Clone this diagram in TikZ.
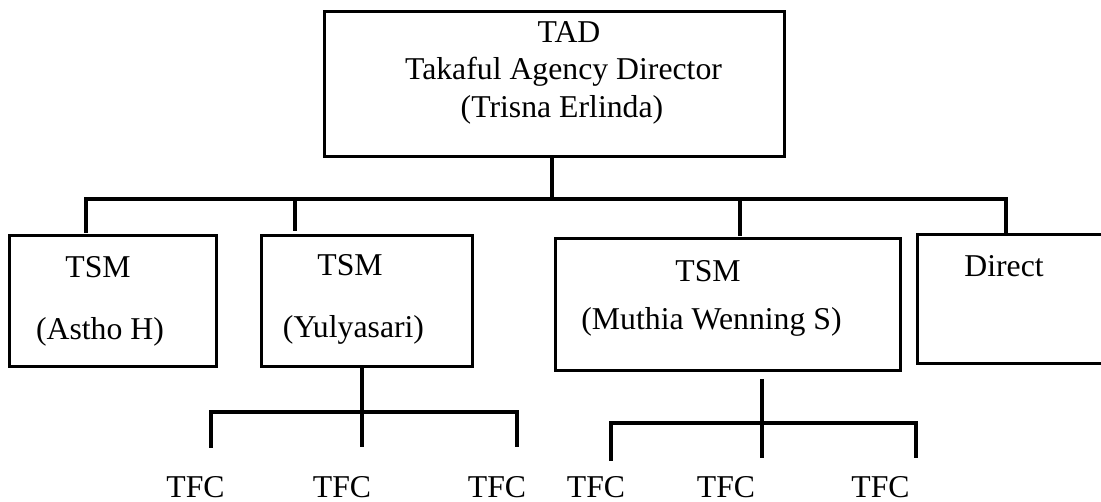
\documentclass[tikz,border=0pt]{standalone}
\usepackage{fontspec}
\setmainfont{Liberation Serif}
\begin{document}
\begin{tikzpicture}[x=1pt,y=-1pt,
  box/.style={draw=black,line width=3pt,rectangle,inner sep=0pt},
  lbl/.style={anchor=base,inner sep=0pt,font=\fontsize{31.75}{38}\selectfont},
  conn/.style={draw=black,line width=4pt,line join=miter,line cap=butt}]
\clip (0,0) rectangle (1101,502);
\fill[white] (0,0) rectangle (1101,502);
% boxes
\node[box,minimum width=460pt,minimum height=145pt] (tad) at (554,84.5) {};
\node[box,minimum width=207pt,minimum height=131pt] (b1) at (112.5,301.5) {};
\node[box,minimum width=211pt,minimum height=131pt] (b2) at (366.5,301.5) {};
\node[box,minimum width=345pt,minimum height=132pt] (b3) at (727.5,305) {};
\node[box,minimum width=203pt,minimum height=129pt] (b4) at (1018.5,299.5) {};
% texts
\node[lbl] (t1) at (569,43) {TAD};
\node[lbl] (t2) at (563.5,80) {Takaful Agency Director};
\node[lbl] (t3) at (562,118) {(Trisna Erlinda)};
\node[lbl] (s1) at (98,278) {TSM};
\node[lbl] (n1) at (100,340) {(Astho H)};
\node[lbl] (s2) at (350,276) {TSM};
\node[lbl] (n2) at (353.5,338) {(Yulyasari)};
\node[lbl] (s3) at (708,282) {TSM};
\node[lbl] (n3) at (711.5,330) {(Muthia Wenning S)};
\node[lbl] (s4) at (1004,277) {Direct};
\node[lbl] (f1) at (195.5,497) {TFC};
\node[lbl] (f2) at (342,497) {TFC};
\node[lbl] (f3) at (497,497) {TFC};
\node[lbl] (f4) at (596,497) {TFC};
\node[lbl] (f5) at (726,497) {TFC};
\node[lbl] (f6) at (880.5,497) {TFC};
% top tree
\coordinate (j0) at (552,199);
\coordinate (d1) at (86,233);
\coordinate (d2) at (295,231);
\coordinate (d3) at (740,236);
\coordinate (d4) at (1006,233);
\draw[conn] (tad.south -| j0) -- (j0);
\draw[conn] (d1) |- (j0) -| (d4);
\draw[conn] (d2 |- j0) -- (d2);
\draw[conn] (d3 |- j0) -- (d3);
% Yulyasari tree
\coordinate (j1) at (362,412);
\coordinate (e1) at (211,448);
\coordinate (e2) at (362,447);
\coordinate (e3) at (517,447);
\draw[conn] (b2.south -| j1) -- (e2);
\draw[conn] (e1) |- (j1) -| (e3);
% Muthia tree
\coordinate (m0) at (762,379);
\coordinate (j2) at (762,423);
\coordinate (g1) at (611,461);
\coordinate (g2) at (762,458);
\coordinate (g3) at (916,458);
\draw[conn] (m0) -- (g2);
\draw[conn] (g1) |- (j2) -| (g3);
\end{tikzpicture}
\end{document}
